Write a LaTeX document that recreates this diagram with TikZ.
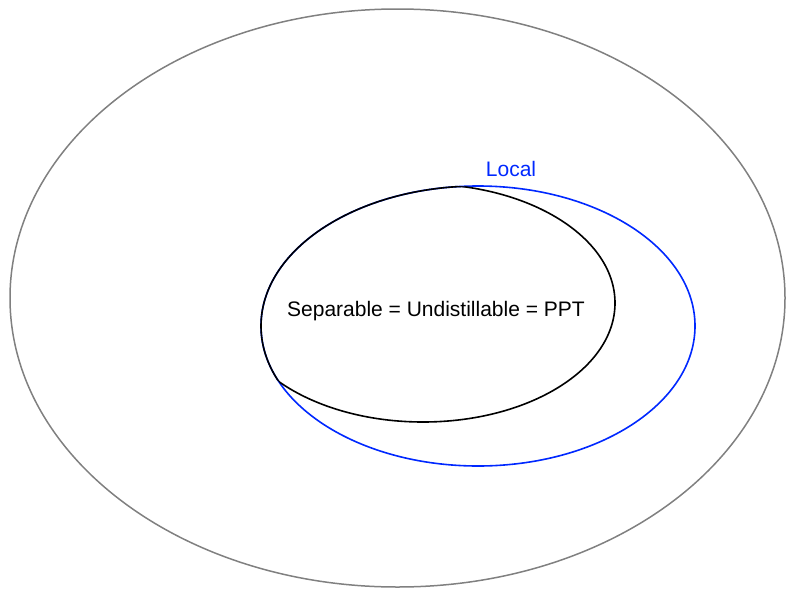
\documentclass[tikz,border=0pt]{standalone}
\usepackage{fontspec}
\setmainfont{Liberation Sans}
\definecolor{outergray}{RGB}{128,128,128}
\definecolor{localblue}{RGB}{0,40,255}
\tikzset{
  outerline/.style={draw=outergray, line width=1.5pt},
  localline/.style={draw=localblue, line width=1.6pt},
  sepline/.style={draw=black, line width=1.6pt},
  lbl/.style={font=\fontsize{21}{25}\selectfont, inner sep=0pt, anchor=base}
}
\begin{document}
\begin{tikzpicture}[x=1pt,y=-1pt]
\useasboundingbox (0,0) rectangle (800,600);
% outer ellipse
\draw[outerline] (397.5,298) ellipse [x radius=387.5, y radius=289];
% local (blue) ellipse
\draw[localline] (478,326) ellipse [x radius=217, y radius=140];
% separable region = intersection of the two ellipses
\begin{scope}
  \clip (478,326) ellipse [x radius=217, y radius=140];
  \draw[sepline] (423,303) ellipse [x radius=192, y radius=119];
\end{scope}
\begin{scope}
  \clip (423,303) ellipse [x radius=192, y radius=119];
  \draw[sepline] (478,326) ellipse [x radius=217, y radius=140];
\end{scope}
\node[lbl] (sep) at (436,316.5) {Separable = Undistillable = PPT};
\node[lbl, text=localblue] (local) at (511,176) {Local};
\end{tikzpicture}
\end{document}
